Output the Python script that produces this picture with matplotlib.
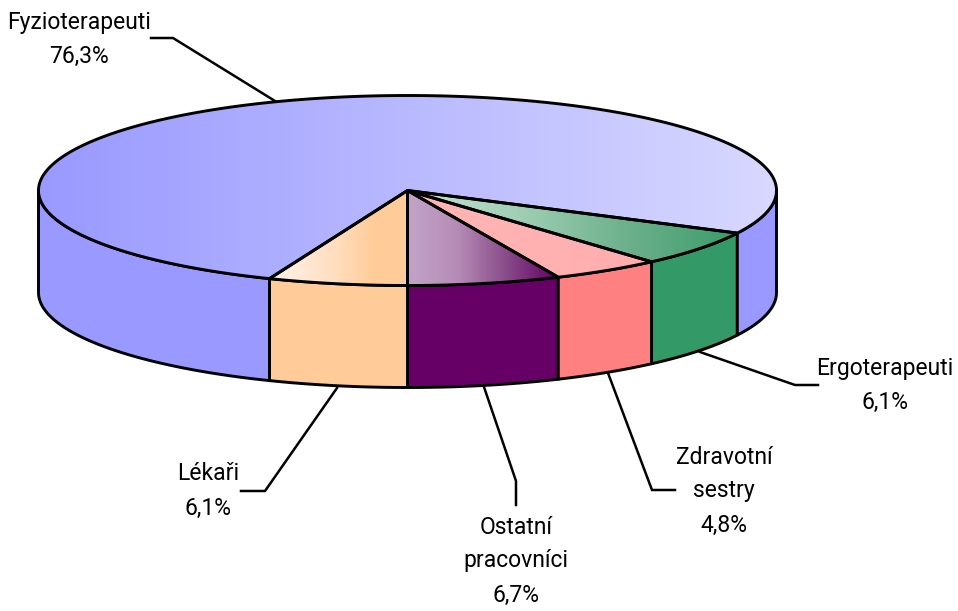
import numpy as np
import matplotlib
matplotlib.use('Agg')
import matplotlib.pyplot as plt
from matplotlib.colors import LinearSegmentedColormap
from matplotlib.patches import Polygon

# Hodnoty v pořadí od spodního bodu koláče doprava
labels = ['Ostatní\npracovníci', 'Zdravotní\nsestry', 'Ergoterapeuti', 'Fyzioterapeuti', 'Lékaři']
shares = [6.7, 4.8, 6.1, 76.3, 6.1]
share_labels = ['6,7%', '4,8%', '6,1%', '76,3%', '6,1%']

side_colors = ['#660066', '#FF8080', '#339966', '#9999FF', '#FFCC99']
top_colors = [
    ['#C2A4C8', '#B68CB6', '#884A88', '#660066'],
    ['#FFB6B6', '#FFADAD'],
    ['#C5E3D3', '#A0D0B5', '#6DB08C', '#3B9C6A'],
    ['#9999FF', '#B9B9FF', '#D8D8FF'],
    ['#FFF2E8', '#FFE8D6', '#FFDCBB', '#FFCC99', '#FFCC99'],
]

# Popisky: střed textu a lomená odkazová čára
label_pos = [(516, 527), (724, 457), (885, 368), (79, 22), (208, 474)]
leaders = [
    [(484, 387), (516, 481), (516, 505)],
    [(608, 373), (652, 490), (675, 490)],
    [(700, 352), (795, 385), (818, 385)],
    [(275, 101), (173, 38), (151, 38)],
    [(337, 388), (265, 491), (241, 491)],
]

cx, cy, rx, ry, depth = 407.5, 190.5, 369, 95, 102
line_h = 34
edge = 2.1

plt.rcParams['font.family'] = ['Roboto', 'Liberation Sans']


def arc(a0, a1, dy=0):
    # úhel se měří ve stupních od vrcholu elipsy po směru hodin
    n = max(int(abs(a1 - a0) * 2), 2)
    t = np.radians(np.linspace(a0, a1, n))
    return np.column_stack([cx + rx * np.sin(t), cy - ry * np.cos(t) + dy])


def draw_wall(a0, a1, color):
    top = arc(a0, a1)
    bottom = arc(a1, a0, depth)
    ax.add_patch(Polygon(np.vstack([top, bottom]), closed=True, facecolor=color,
                         edgecolor='black', lw=edge, joinstyle='round', zorder=2))


def draw_top(a0, a1, stops):
    pts = np.vstack([[(cx, cy)], arc(a0, a1)])
    cmap = LinearSegmentedColormap.from_list('g', stops)
    grad = np.linspace(0, 1, 256).reshape(1, -1)
    x0, x1 = pts[:, 0].min(), pts[:, 0].max()
    y0, y1 = pts[:, 1].min(), pts[:, 1].max()
    img = ax.imshow(grad, cmap=cmap, extent=(x0, x1, y1, y0), aspect='auto',
                    interpolation='bilinear', zorder=3)
    patch = Polygon(pts, closed=True, facecolor='none', edgecolor='black',
                    lw=edge, joinstyle='round', zorder=4)
    ax.add_patch(patch)
    img.set_clip_path(patch)


fig = plt.figure(figsize=(9.58, 6.11), dpi=100)
ax = fig.add_axes([0, 0, 1, 1])

fractions = np.array(shares) / sum(shares)
angle = 180.0
for i, f in enumerate(fractions):
    a0, a1 = angle, angle - f * 360
    angle = a1
    # boční stěna je vidět jen v přední polovině (90 až 270 stupňů)
    if a1 >= 90:
        draw_wall(a0, a1, side_colors[i])
    elif a0 > 90:
        draw_wall(a0, 90, side_colors[i])
        if a1 + 360 < 270:
            draw_wall(270, a1 + 360, side_colors[i])
    else:
        draw_wall(a0 + 360, a1 + 360, side_colors[i])
    draw_top(a0, a1, top_colors[i])

for i, name in enumerate(labels):
    x, y = label_pos[i]
    for j, line in enumerate(name.split('\n') + [share_labels[i]]):
        ax.text(x, y + j * line_h, line, ha='center', va='center', fontsize=16.5, color='black')
    ax.plot(*zip(*leaders[i]), color='black', lw=1.8, solid_joinstyle='miter', zorder=1)

ax.set_xlim(0, 958)
ax.set_ylim(611, 0)
ax.axis('off')
fig.savefig('out.png', dpi=100, facecolor='white')
